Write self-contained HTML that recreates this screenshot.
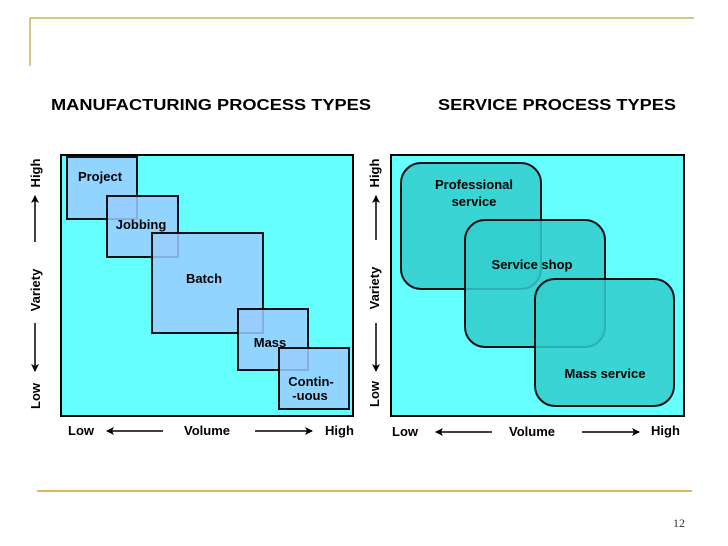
<!DOCTYPE html>
<html><head><meta charset="utf-8"><style>
html,body{margin:0;padding:0;background:#fff;}
svg{display:block;}
text{font-family:"Liberation Sans",Arial,sans-serif;font-weight:bold;fill:#000;}
</style></head><body>
<svg width="728" height="546" viewBox="0 0 728 546" xmlns="http://www.w3.org/2000/svg">
<defs>
<marker id="ah" markerWidth="8" markerHeight="8" refX="7" refY="4" orient="auto" markerUnits="userSpaceOnUse">
<path d="M0,0 L8,4 L0,8 L2,4 Z" fill="#000"/>
</marker>
</defs>
<!-- slide decor -->
<line x1="30" y1="18" x2="694" y2="18" stroke="#C9B458" stroke-width="1.5"/>
<line x1="30" y1="18" x2="30" y2="66" stroke="#C9B458" stroke-width="1.5"/>
<line x1="37" y1="491" x2="692" y2="491" stroke="#D9B860" stroke-width="2"/>
<text x="679" y="527" text-anchor="middle" style="font-family:'Liberation Serif',serif;font-weight:normal;font-size:12px;fill:#333">12</text>

<!-- titles -->
<text x="51" y="110" font-size="16" textLength="320" lengthAdjust="spacingAndGlyphs">MANUFACTURING PROCESS TYPES</text>
<text x="438" y="110" font-size="16" textLength="238" lengthAdjust="spacingAndGlyphs">SERVICE PROCESS TYPES</text>

<!-- left panel -->
<rect x="61" y="155" width="292" height="261" fill="#66FFFF" stroke="#000" stroke-width="2"/>
<g fill="#99CCFF" fill-opacity="0.85" stroke="#111" stroke-width="2">
<rect x="67" y="157" width="70" height="62"/>
<rect x="107" y="196" width="71" height="61"/>
<rect x="152" y="233" width="111" height="100"/>
<rect x="238" y="309" width="70" height="61"/>
<rect x="279" y="348" width="70" height="61"/>
</g>
<g font-size="13">
<text x="100" y="181" text-anchor="middle">Project</text>
<text x="141" y="229" text-anchor="middle">Jobbing</text>
<text x="204" y="283" text-anchor="middle">Batch</text>
<text x="270" y="347" text-anchor="middle">Mass</text>
<text x="311" y="386" text-anchor="middle">Contin-</text>
<text x="310" y="400" text-anchor="middle">-uous</text>
</g>
<!-- left axes -->
<g font-size="13">
<text transform="translate(40,173) rotate(-90)" text-anchor="middle">High</text>
<text transform="translate(40,290) rotate(-90)" text-anchor="middle">Variety</text>
<text transform="translate(40,396) rotate(-90)" text-anchor="middle">Low</text>
<text x="68" y="435">Low</text>
<text x="207" y="435" text-anchor="middle">Volume</text>
<text x="325" y="435">High</text>
</g>
<g stroke="#000" stroke-width="1.5" marker-end="url(#ah)">
<line x1="35" y1="242" x2="35" y2="196"/>
<line x1="35" y1="323" x2="35" y2="371"/>
<line x1="163" y1="431" x2="107" y2="431"/>
<line x1="255" y1="431" x2="312" y2="431"/>
</g>

<!-- right panel -->
<rect x="391" y="155" width="293" height="261" fill="#66FFFF" stroke="#000" stroke-width="2"/>
<g fill="#33CCCC" fill-opacity="0.85" stroke="#111" stroke-width="2">
<rect x="401" y="163" width="140" height="126" rx="20"/>
<rect x="465" y="220" width="140" height="127" rx="20"/>
<rect x="535" y="279" width="139" height="127" rx="20"/>
</g>
<g font-size="13">
<text x="474" y="189" text-anchor="middle">Professional</text>
<text x="474" y="206" text-anchor="middle">service</text>
<text x="532" y="269" text-anchor="middle">Service shop</text>
<text x="605" y="378" text-anchor="middle">Mass service</text>
</g>
<g font-size="13">
<text transform="translate(379,173) rotate(-90)" text-anchor="middle">High</text>
<text transform="translate(379,288) rotate(-90)" text-anchor="middle">Variety</text>
<text transform="translate(379,394) rotate(-90)" text-anchor="middle">Low</text>
<text x="392" y="436">Low</text>
<text x="532" y="436" text-anchor="middle">Volume</text>
<text x="651" y="435">High</text>
</g>
<g stroke="#000" stroke-width="1.5" marker-end="url(#ah)">
<line x1="376" y1="240" x2="376" y2="196"/>
<line x1="376" y1="323" x2="376" y2="371"/>
<line x1="492" y1="432" x2="436" y2="432"/>
<line x1="582" y1="432" x2="639" y2="432"/>
</g>
</svg>
</body></html>
